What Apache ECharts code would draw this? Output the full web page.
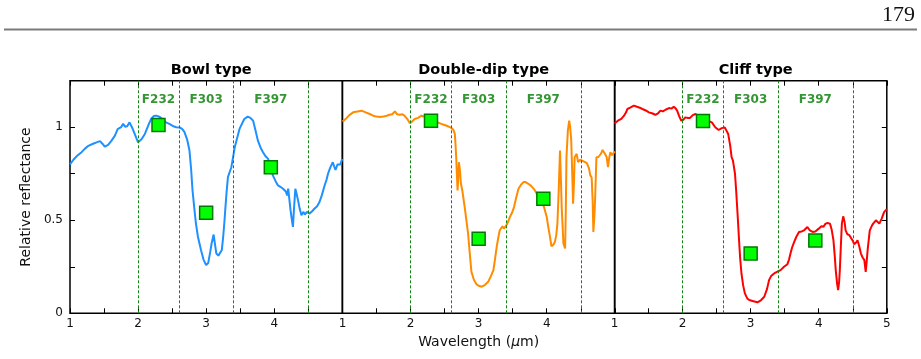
<!DOCTYPE html>
<html>
<head>
<meta charset="utf-8">
<script src="https://cdn.jsdelivr.net/npm/echarts@6/dist/echarts.min.js"></script>
<style>
  html, body { margin: 0; padding: 0; background: #fff; }
  #container { width: 921px; height: 359px; }
</style>
</head>
<body>
<div id="container"></div>
<script>
// spectra, [wavelength, reflectance]
var bowlSpectrum = [
    [1.00,0.80],[1.05,0.825],[1.10,0.845],[1.17,0.866],[1.22,0.885],[1.27,0.90],[1.33,0.91],[1.40,0.92],
    [1.44,0.925],[1.48,0.91],[1.51,0.896],[1.56,0.905],[1.61,0.928],[1.66,0.955],[1.70,0.99],[1.75,1.00],
    [1.78,1.018],[1.81,1.003],[1.84,1.005],[1.875,1.026],[1.91,1.00],[1.95,0.964],[2.00,0.919],[2.05,0.935],
    [2.10,0.964],[2.15,1.01],[2.19,1.044],[2.23,1.06],[2.27,1.062],[2.32,1.055],[2.37,1.04],[2.41,1.026],
    [2.46,1.018],[2.52,1.005],[2.56,1.00],[2.61,0.999],[2.65,0.99],[2.68,0.975],[2.72,0.935],[2.755,0.875],
    [2.78,0.77],[2.80,0.66],[2.83,0.55],[2.85,0.482],[2.88,0.41],[2.925,0.339],[2.96,0.29],[3.00,0.259],
    [3.03,0.27],[3.06,0.33],[3.08,0.375],[3.11,0.423],[3.13,0.37],[3.15,0.321],[3.18,0.31],[3.20,0.312],
    [3.23,0.34],[3.25,0.41],[3.27,0.50],[3.28,0.553],[3.30,0.65],[3.32,0.732],[3.37,0.785],[3.42,0.892],
    [3.49,0.991],[3.56,1.044],[3.61,1.057],[3.65,1.05],[3.69,1.035],[3.72,0.99],[3.76,0.928],[3.80,0.89],
    [3.835,0.866],[3.87,0.845],[3.91,0.830],[3.95,0.79],[3.98,0.741],[4.02,0.71],[4.055,0.687],[4.09,0.68],
    [4.13,0.669],[4.17,0.655],[4.19,0.634],[4.205,0.67],[4.22,0.62],[4.24,0.553],[4.26,0.50],[4.275,0.464],
    [4.29,0.56],[4.31,0.669],[4.33,0.64],[4.35,0.607],[4.375,0.56],[4.40,0.527],[4.43,0.545],[4.45,0.53],
    [4.48,0.545],[4.52,0.536],[4.56,0.55],[4.59,0.562],[4.63,0.575],[4.665,0.598],[4.70,0.635],[4.74,0.687],
    [4.77,0.72],[4.79,0.75],[4.82,0.78],[4.86,0.812],[4.88,0.79],[4.90,0.77],[4.93,0.80],[4.95,0.81],
    [4.97,0.80],[5.00,0.83]
];
var doubleDipSpectrum = [
    [1.00,1.03],[1.05,1.045],[1.10,1.065],[1.156,1.08],[1.22,1.085],[1.28,1.089],[1.34,1.08],[1.40,1.071],
    [1.45,1.062],[1.50,1.057],[1.55,1.055],[1.60,1.057],[1.65,1.062],[1.69,1.067],[1.73,1.07],[1.77,1.085],
    [1.80,1.07],[1.84,1.067],[1.88,1.07],[1.91,1.062],[1.95,1.045],[1.99,1.021],[2.02,1.03],[2.06,1.044],
    [2.11,1.05],[2.16,1.062],[2.22,1.055],[2.28,1.044],[2.34,1.035],[2.40,1.026],[2.45,1.018],[2.50,1.012],
    [2.55,1.005],[2.60,0.996],[2.63,0.985],[2.65,0.964],[2.66,0.91],[2.67,0.839],[2.68,0.75],[2.69,0.66],
    [2.70,0.72],[2.71,0.812],[2.725,0.77],[2.74,0.696],[2.76,0.66],[2.795,0.571],[2.82,0.50],[2.845,0.428],
    [2.87,0.32],[2.894,0.223],[2.93,0.18],[2.97,0.155],[3.00,0.148],[3.045,0.143],[3.09,0.152],[3.14,0.169],
    [3.18,0.20],[3.217,0.232],[3.24,0.29],[3.265,0.357],[3.29,0.41],[3.31,0.446],[3.335,0.455],[3.35,0.468],
    [3.37,0.455],[3.385,0.45],[3.42,0.48],[3.46,0.518],[3.49,0.54],[3.52,0.571],[3.55,0.62],[3.585,0.669],
    [3.62,0.69],[3.658,0.705],[3.69,0.705],[3.73,0.696],[3.77,0.685],[3.81,0.669],[3.85,0.645],[3.88,0.625],
    [3.92,0.60],[3.96,0.571],[4.00,0.518],[4.02,0.47],[4.04,0.428],[4.07,0.36],[4.10,0.37],[4.12,0.384],
    [4.14,0.42],[4.157,0.482],[4.175,0.65],[4.195,0.875],[4.21,0.70],[4.22,0.571],[4.245,0.375],[4.27,0.348],
    [4.28,0.55],[4.29,0.839],[4.31,0.98],[4.33,1.035],[4.345,1.00],[4.36,0.928],[4.375,0.75],[4.387,0.589],
    [4.40,0.70],[4.41,0.839],[4.44,0.857],[4.46,0.812],[4.49,0.825],[4.51,0.821],[4.55,0.815],[4.59,0.807],
    [4.62,0.78],[4.64,0.741],[4.66,0.73],[4.675,0.60],[4.685,0.437],[4.70,0.52],[4.71,0.607],[4.73,0.839],
    [4.76,0.84],[4.78,0.848],[4.80,0.86],[4.82,0.878],[4.855,0.857],[4.88,0.84],[4.90,0.785],[4.92,0.84],
    [4.935,0.866],[4.96,0.85],[4.985,0.848],[5.00,0.87]
];
var cliffSpectrum = [
    [1.00,1.02],[1.05,1.035],[1.10,1.045],[1.14,1.062],[1.17,1.08],[1.19,1.098],[1.23,1.105],[1.285,1.116],
    [1.33,1.11],[1.37,1.105],[1.41,1.098],[1.46,1.09],[1.505,1.08],[1.55,1.075],[1.60,1.067],[1.64,1.075],
    [1.675,1.089],[1.71,1.085],[1.75,1.094],[1.80,1.103],[1.84,1.10],[1.87,1.11],[1.90,1.10],[1.92,1.089],
    [1.95,1.06],[1.98,1.035],[2.01,1.04],[2.04,1.053],[2.08,1.05],[2.11,1.05],[2.15,1.065],[2.19,1.071],
    [2.25,1.055],[2.31,1.044],[2.37,1.035],[2.43,1.026],[2.48,1.00],[2.53,0.985],[2.575,0.995],[2.62,0.999],
    [2.645,0.99],[2.67,0.964],[2.70,0.90],[2.72,0.839],[2.74,0.82],[2.755,0.812],[2.77,0.75],[2.787,0.66],
    [2.81,0.52],[2.827,0.41],[2.845,0.30],[2.865,0.214],[2.89,0.15],[2.915,0.107],[2.95,0.08],[2.98,0.071],
    [3.04,0.065],[3.10,0.059],[3.15,0.07],[3.20,0.089],[3.24,0.13],[3.27,0.178],[3.30,0.20],[3.345,0.214],
    [3.40,0.225],[3.44,0.232],[3.49,0.25],[3.54,0.264],[3.565,0.29],[3.585,0.321],[3.61,0.355],[3.64,0.384],
    [3.67,0.41],[3.71,0.437],[3.75,0.44],[3.785,0.446],[3.81,0.455],[3.834,0.464],[3.87,0.445],[3.91,0.437],
    [3.95,0.44],[4.00,0.455],[4.04,0.468],[4.07,0.465],[4.10,0.482],[4.13,0.485],[4.165,0.482],[4.19,0.45],
    [4.216,0.393],[4.235,0.31],[4.25,0.232],[4.27,0.16],[4.285,0.125],[4.30,0.17],[4.31,0.232],[4.325,0.36],
    [4.34,0.482],[4.36,0.521],[4.38,0.49],[4.395,0.446],[4.42,0.425],[4.45,0.42],[4.47,0.414],[4.50,0.39],
    [4.52,0.371],[4.55,0.38],[4.57,0.393],[4.595,0.36],[4.62,0.321],[4.645,0.30],[4.67,0.286],[4.69,0.223],
    [4.705,0.28],[4.72,0.346],[4.75,0.446],[4.78,0.47],[4.80,0.482],[4.84,0.50],[4.865,0.49],[4.89,0.482],
    [4.925,0.509],[4.96,0.544],[4.985,0.553],[5.00,0.56]
];

// filter band edges and the band-averaged points
var filterEdges = [2, 2.6, 3.4, 4.5];
var filterNames = ['F232', 'F303', 'F397'];
var filterCenters = [2.3, 3.0, 3.95];
var bowlFilters = [1.012, 0.541, 0.785];
var doubleDipFilters = [1.035, 0.40, 0.616];
var cliffFilters = [1.034, 0.321, 0.391];

var panelTitles = ['Bowl type', 'Double-dip type', 'Cliff type'];
var xTicks = [1, 2, 3, 4, 5];
var yTickLabels = {0: '0', 0.5: '0.5', 1: '1'};

var dom = document.getElementById('container');
var myChart = echarts.init(dom, null, {renderer: 'canvas'});

var spectra = [bowlSpectrum, doubleDipSpectrum, cliffSpectrum];
var filterVals = [bowlFilters, doubleDipFilters, cliffFilters];
var colors = ['#1e90ff', '#ff8c00', '#ff0000'];
var lefts = [70, 342.5, 614.5];
var gridW = 272.3;
var top0 = 80.7, gridH = 232.6;
var labelY = 1.146;

var grids = [], xAxes = [], yAxes = [], series = [], titles = [];

for (var i = 0; i < 3; i++) {
    grids.push({
        left: lefts[i], top: top0, width: gridW, height: gridH,
        show: true, borderColor: '#000', borderWidth: 1.5, backgroundColor: 'transparent'
    });
    (function (idx) {
        xAxes.push({
            gridIndex: idx, type: 'value', min: 1, max: 5, interval: 0.5,
            axisLine: {show: false},
            axisTick: {inside: true, length: 5, lineStyle: {color: '#000', width: 1}},
            splitLine: {show: false},
            axisLabel: {
                color: '#111', fontSize: 12, margin: 5, fontFamily: 'DejaVu Sans',
                formatter: function (v) {
                    if (v % 1 !== 0) return '';
                    if (v === 5 && idx < 2) return '';
                    return xTicks.indexOf(v) >= 0 ? String(v) : '';
                }
            },
            name: idx === 1 ? 'Wavelength ({i|μ}m)' : '',
            nameLocation: 'middle', nameGap: 22,
            nameTextStyle: {
                fontSize: 14, color: '#111', fontFamily: 'DejaVu Sans',
                rich: {i: {fontStyle: 'italic', fontSize: 14, fontFamily: 'DejaVu Sans', color: '#111'}}
            }
        });
    })(i);
    xAxes.push({
        gridIndex: i, type: 'value', min: 1, max: 5, interval: 0.5, position: 'top',
        axisLine: {show: false},
        axisTick: {inside: true, length: 5, lineStyle: {color: '#000', width: 1}},
        splitLine: {show: false},
        axisLabel: {show: false}
    });
    yAxes.push({
        gridIndex: i, type: 'value', min: 0, max: 1.25, interval: 0.25,
        position: i === 2 ? 'right' : 'left',
        axisLine: {show: false},
        axisTick: {show: i !== 1, inside: true, length: 5, lineStyle: {color: '#000', width: 1}},
        splitLine: {show: false},
        axisLabel: {
            show: i === 0, color: '#111', fontSize: 12, margin: 7, fontFamily: 'DejaVu Sans',
            formatter: function (v) { return yTickLabels[v] !== undefined ? yTickLabels[v] : ''; }
        },
        name: i === 0 ? 'Relative reflectance' : '',
        nameLocation: 'middle', nameGap: 37, nameRotate: 90,
        nameTextStyle: {fontSize: 14, color: '#111', fontFamily: 'DejaVu Sans'}
    });

    series.push({
        type: 'line', xAxisIndex: i * 2, yAxisIndex: i,
        data: spectra[i], showSymbol: false, symbol: 'none', smooth: false,
        lineStyle: {color: colors[i], width: 2},
        z: 3, animation: false,
        markLine: {
            silent: true, symbol: 'none', animation: false,
            label: {show: false},
            lineStyle: {color: '#0f850f', type: [3, 2], width: 1},
            data: filterEdges.map(function (e) { return {xAxis: e}; })
        }
    });
    series.push({
        type: 'scatter', xAxisIndex: i * 2, yAxisIndex: i,
        data: filterCenters.map(function (c, k) { return [c, filterVals[i][k]]; }),
        symbol: 'rect', symbolSize: 13, z: 5, animation: false,
        itemStyle: {color: '#00ff00', borderColor: '#007a00', borderWidth: 1.5, opacity: 1}
    });
    series.push({
        type: 'scatter', xAxisIndex: i * 2, yAxisIndex: i,
        data: filterCenters.map(function (c, k) { return {value: [c, labelY], name: filterNames[k]}; }),
        symbolSize: 1, z: 6, animation: false, silent: true,
        itemStyle: {color: 'rgba(0,0,0,0)'},
        label: {
            show: true, position: 'inside', formatter: '{b}',
            color: '#007a00', fontWeight: 'bold', fontSize: 12, fontFamily: 'DejaVu Sans'
        }
    });

    titles.push({
        text: panelTitles[i], left: lefts[i] + gridW / 2, top: 58, textAlign: 'center',
        textStyle: {fontSize: 14.5, fontWeight: 'bold', color: '#000', fontFamily: 'DejaVu Sans'}
    });
}

var option = {
    animation: false,
    backgroundColor: '#fff',
    textStyle: {fontFamily: 'DejaVu Sans'},
    title: titles,
    grid: grids,
    xAxis: xAxes,
    yAxis: yAxes,
    series: series,
    graphic: [
        {
            type: 'text', right: 6, top: 4,
            style: {text: '179', font: '22px "Liberation Serif"', fill: '#111'}
        },
        {
            type: 'line', shape: {x1: 4, y1: 29.5, x2: 917, y2: 29.5},
            style: {stroke: '#7a7a7a', lineWidth: 2}
        }
    ]
};

myChart.setOption(option);
</script>
</body>
</html>
